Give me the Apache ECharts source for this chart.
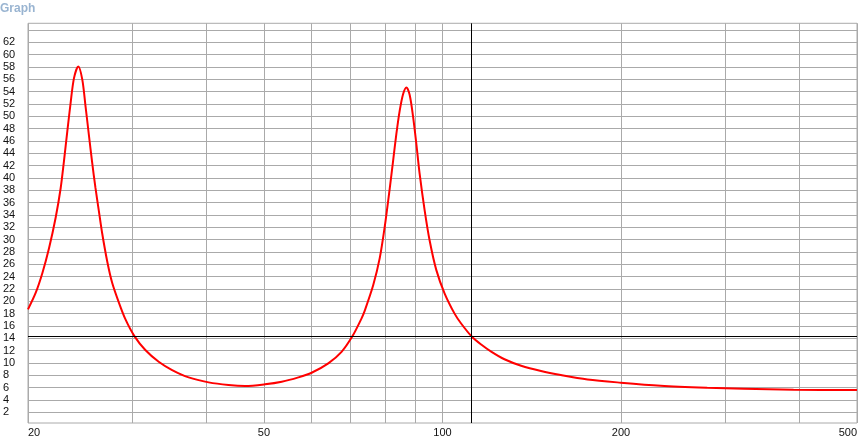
<!DOCTYPE html>
<html>
<head>
<meta charset="utf-8">
<script src="https://cdn.jsdelivr.net/npm/echarts@6/dist/echarts.min.js"></script>
<style>
html,body{margin:0;padding:0;background:#fff;}
#chart{width:861px;height:440px;}
</style>
</head>
<body>
<div id="chart"></div>
<script>
// Frequency (Hz) and impedance values
const freqs = [20, 20.61, 21.15, 21.70, 22.27, 22.70, 23.00, 23.30, 23.60, 23.91, 24.31, 24.69, 25.01, 25.34, 25.66, 25.99, 26.34, 26.68, 27.20, 27.73, 28.46, 29.19, 30.23, 31.54, 33.22, 35.00, 37.32, 40.33, 43.57, 46.46, 50.20, 53.57, 57.14, 60.16, 64.18, 67.57, 70.51, 73.0, 73.95, 76.40, 78.37, 79.91, 81.47, 82.55, 83.61, 84.68, 85.80, 86.91, 88.02, 89.19, 90.33, 91.50, 93.29, 95.11, 97.61, 100.8, 104.8, 107.5, 112.0, 116.2, 120.8, 127.2, 135.7, 146.6, 158.3, 175.6, 199.8, 233.3, 279.5, 322.0, 390.8, 500];
const impedance = [18.7, 21.4, 24.6, 28.6, 33.6, 38.3, 42.8, 47.6, 52.2, 56.2, 58.1, 56.0, 51.6, 46.9, 42.5, 38.4, 34.6, 31.0, 26.5, 23.0, 19.8, 17.1, 14.36, 12.1, 10.2, 8.85, 7.66, 6.85, 6.42, 6.26, 6.53, 6.95, 7.66, 8.41, 9.93, 11.8, 14.36, 17.2, 18.5, 22.6, 27.0, 32.1, 38.3, 42.8, 47.2, 50.9, 53.6, 54.7, 53.5, 50.0, 45.6, 40.7, 34.8, 29.9, 25.1, 21.3, 18.0, 16.4, 14.3, 13.0, 11.85, 10.6, 9.55, 8.69, 8.04, 7.32, 6.8, 6.3, 5.98, 5.82, 5.66, 5.6];

const xGridValues = [20, 30, 40, 50, 60, 70, 80, 90, 100, 200, 300, 400, 500];
const xLabelValues = [20, 50, 100, 200, 500];
const yGridValues = [2, 4, 6, 8, 10, 12, 14, 16, 18, 20, 22, 24, 26, 28, 30, 32, 34, 36, 38, 40, 42, 44, 46, 48, 50, 52, 54, 56, 58, 60, 62, 64];
const yLabelValues = [2, 4, 6, 8, 10, 12, 14, 16, 18, 20, 22, 24, 26, 28, 30, 32, 34, 36, 38, 40, 42, 44, 46, 48, 50, 52, 54, 56, 58, 60, 62];

const cursorX = 112;
const cursorY = 14.3;

const chart = echarts.init(document.getElementById('chart'), null, {renderer: 'canvas'});
const data = freqs.map((f, i) => [f, impedance[i]]);

chart.setOption({
  animation: false,
  backgroundColor: '#ffffff',
  title: {
    text: 'Graph',
    left: 0,
    top: 3,
    padding: 0,
    textStyle: {fontFamily: 'Liberation Sans', fontSize: 12, fontWeight: 'bold', color: '#99b4d1'}
  },
  grid: {
    left: 25.6, right: 4, top: 23.3, bottom: 17,
    show: true, borderColor: '#aaaaaa', borderWidth: 1, backgroundColor: 'transparent'
  },
  xAxis: {
    type: 'log',
    logBase: 10,
    min: 20,
    max: 500,
    axisLine: {show: false},
    axisTick: {show: false, customValues: xGridValues},
    splitLine: {show: true, lineStyle: {color: '#aaaaaa', width: 1}},
    axisLabel: {
      customValues: xLabelValues,
      margin: 4,
      fontFamily: 'Liberation Sans', fontSize: 11, color: '#111',
      alignMinLabel: 'left', alignMaxLabel: 'right'
    }
  },
  yAxis: {
    type: 'value',
    min: 0.26,
    max: 65.1,
    axisLine: {show: false},
    axisTick: {show: false, customValues: yGridValues},
    splitLine: {show: true, lineStyle: {color: '#aaaaaa', width: 1}},
    axisLabel: {
      customValues: yLabelValues,
      align: 'left',
      margin: 25,
      fontFamily: 'Liberation Sans', fontSize: 11, color: '#111'
    }
  },
  series: [{
    type: 'line',
    data: data,
    showSymbol: false,
    symbol: 'none',
    smooth: 0.3,
    lineStyle: {color: '#ff0000', width: 2},
    markLine: {
      silent: true,
      symbol: ['none', 'none'],
      label: {show: false},
      lineStyle: {color: '#000000', width: 1, type: 'solid'},
      data: [{yAxis: cursorY}, {xAxis: cursorX}]
    }
  }]
});
</script>
</body>
</html>
